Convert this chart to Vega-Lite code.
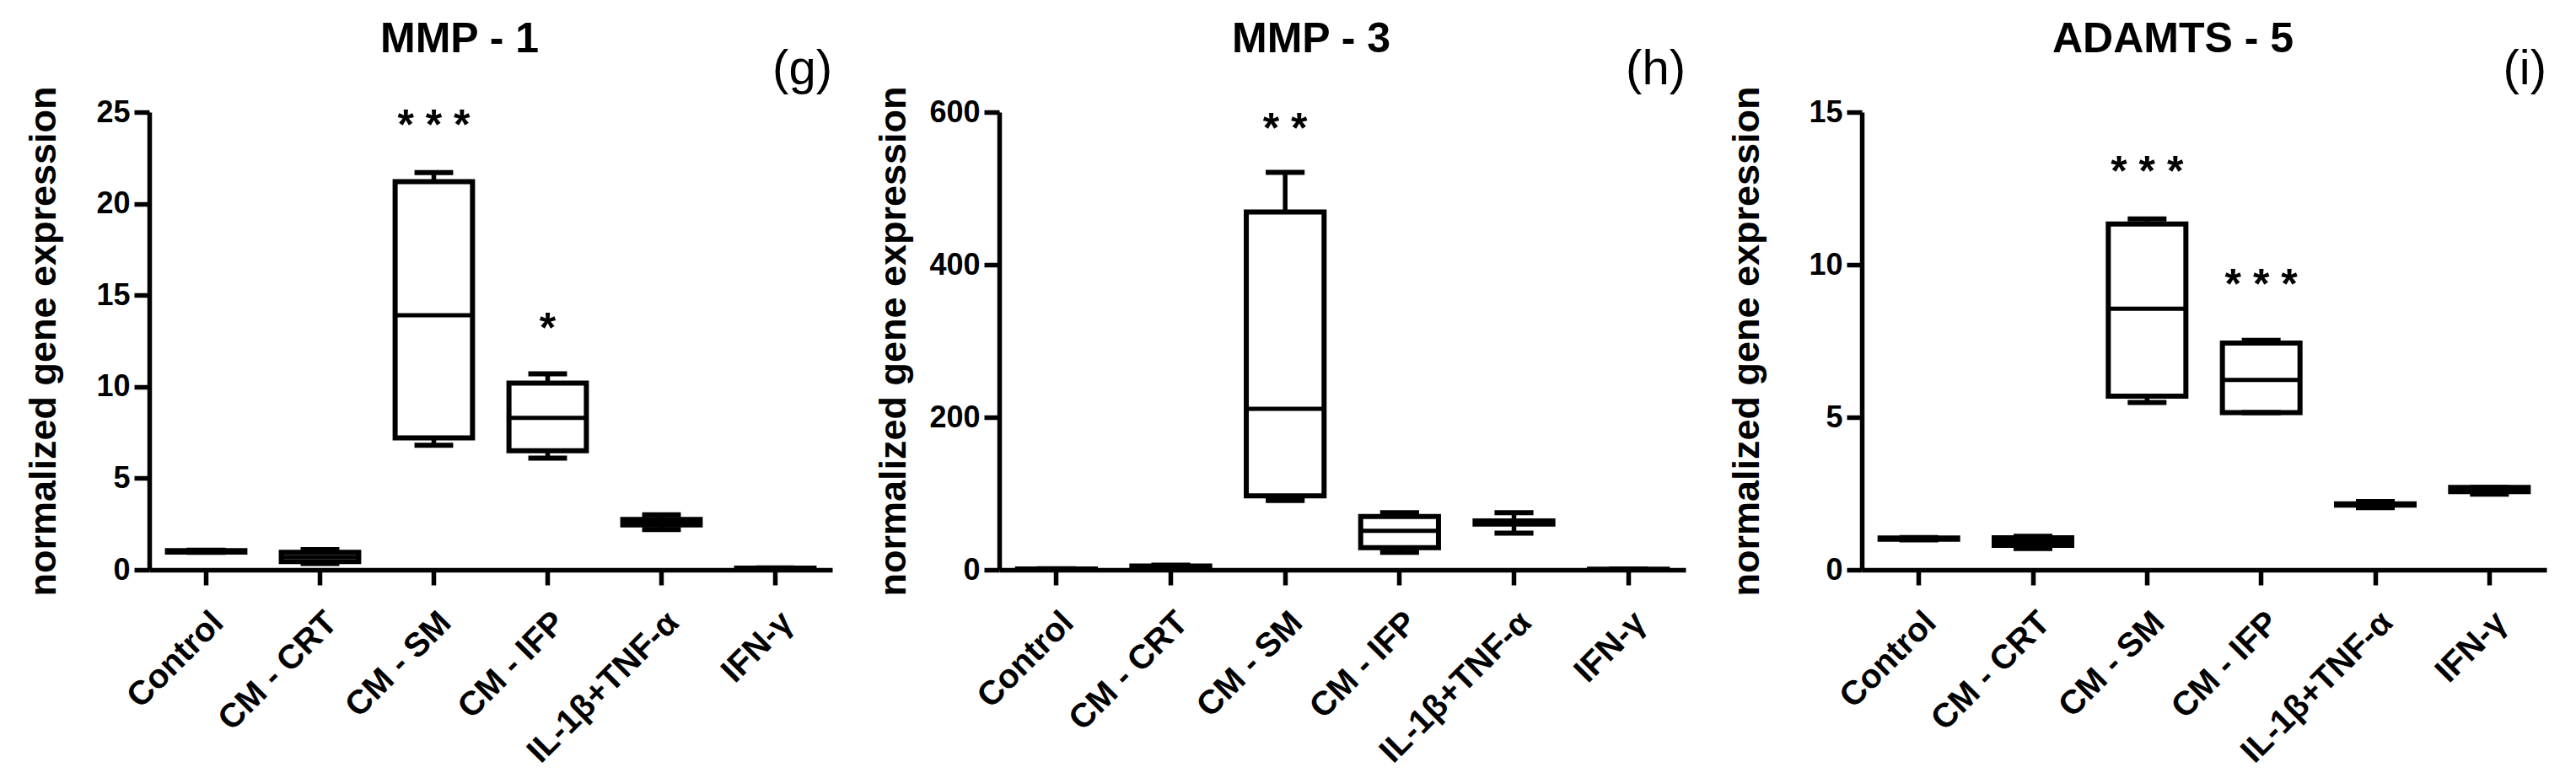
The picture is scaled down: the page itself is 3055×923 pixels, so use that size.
{
  "$schema": "https://vega.github.io/schema/vega-lite/v6.json",
  "background": "white",
  "padding": {"left": 29, "top": 22, "right": 5, "bottom": 5},
  "spacing": 50,
  "config": {
    "font": "Liberation Sans",
    "view": {"stroke": null},
    "axis": {
      "domainColor": "black", "domainWidth": 5.5, "tickColor": "black", "tickWidth": 5.5, "tickSize": 18,
      "labelFont": "Liberation Sans", "labelFontWeight": "bold", "labelFontSize": 36, "labelColor": "black", "labelLimit": 0,
      "titleFont": "Liberation Sans", "titleFontWeight": "bold", "titleFontSize": 45, "titleColor": "black",
      "grid": false
    },
    "axisX": {"labelAngle": -45, "labelAlign": "right", "labelBaseline": "top", "labelPadding": 24, "labelFontSize": 40},
    "axisY": {"labelPadding": 5},
    "title": {"font": "Liberation Sans", "fontSize": 50, "fontWeight": "bold", "color": "black", "anchor": "middle", "dx": -37, "baseline": "alphabetic", "offset": -18}
  },
  "datasets": {
    "mmp1": [
      {"group": "Control", "min": 0.95, "q1": 0.97, "med": 1.0, "q3": 1.05, "max": 1.07},
      {"group": "CM - CRT", "min": 0.35, "q1": 0.45, "med": 0.7, "q3": 0.95, "max": 1.1},
      {"group": "CM - SM", "min": 6.8, "q1": 7.2, "med": 13.9, "q3": 21.2, "max": 21.7},
      {"group": "CM - IFP", "min": 6.1, "q1": 6.5, "med": 8.3, "q3": 10.2, "max": 10.7},
      {"group": "IL-1β+TNF-α", "min": 2.2, "q1": 2.45, "med": 2.6, "q3": 2.75, "max": 3.0},
      {"group": "IFN-γ", "min": 0.05, "q1": 0.07, "med": 0.08, "q3": 0.09, "max": 0.1}
    ],
    "mmp1_sig": [
      {"group": "CM - SM", "y": 24.2, "label": "*  *  *"},
      {"group": "CM - IFP", "y": 13.1, "label": "*"}
    ],
    "mmp1_tag": [{"group": "IFN-γ", "y": 25, "label": "(g)"}],
    "mmp3": [
      {"group": "Control", "min": 0.5, "q1": 0.8, "med": 1.0, "q3": 1.2, "max": 1.5},
      {"group": "CM - CRT", "min": 2, "q1": 3, "med": 4, "q3": 5, "max": 6},
      {"group": "CM - SM", "min": 91, "q1": 97, "med": 211, "q3": 469, "max": 521},
      {"group": "CM - IFP", "min": 23, "q1": 29, "med": 51, "q3": 70, "max": 75},
      {"group": "IL-1β+TNF-α", "min": 48, "q1": 60, "med": 62, "q3": 64, "max": 75},
      {"group": "IFN-γ", "min": 0.3, "q1": 0.5, "med": 0.6, "q3": 0.8, "max": 1.0}
    ],
    "mmp3_sig": [{"group": "CM - SM", "y": 577, "label": "*  *"}],
    "mmp3_tag": [{"group": "IFN-γ", "y": 600, "label": "(h)"}],
    "adamts5": [
      {"group": "Control", "min": 0.98, "q1": 1.0, "med": 1.02, "q3": 1.04, "max": 1.06},
      {"group": "CM - CRT", "min": 0.7, "q1": 0.8, "med": 0.95, "q3": 1.05, "max": 1.1},
      {"group": "CM - SM", "min": 5.48, "q1": 5.69, "med": 8.56, "q3": 11.33, "max": 11.5},
      {"group": "CM - IFP", "min": 5.15, "q1": 5.15, "med": 6.22, "q3": 7.43, "max": 7.52},
      {"group": "IL-1β+TNF-α", "min": 2.04, "q1": 2.12, "med": 2.14, "q3": 2.16, "max": 2.24},
      {"group": "IFN-γ", "min": 2.48, "q1": 2.56, "med": 2.62, "q3": 2.7, "max": 2.7}
    ],
    "adamts5_sig": [
      {"group": "CM - SM", "y": 13.0, "label": "*  *  *"},
      {"group": "CM - IFP", "y": 9.3, "label": "*  *  *"}
    ],
    "adamts5_tag": [{"group": "IFN-γ", "y": 15, "label": "(i)"}]
  },
  "hconcat": [
    {
      "width": 810, "height": 543,
      "title": "MMP - 1",
      "encoding": {"x": {"field": "group", "type": "nominal", "title": null, "sort": ["Control", "CM - CRT", "CM - SM", "CM - IFP", "IL-1β+TNF-α", "IFN-γ"], "scale": {"paddingInner": 0, "paddingOuter": 0}}},
      "layer": [
        {"data": {"name": "mmp1"}, "mark": {"type": "rule", "color": "black", "strokeWidth": 5.5},
         "encoding": {"y": {"field": "min", "type": "quantitative", "scale": {"domain": [0, 25], "nice": false}, "axis": {"values": [0, 5, 10, 15, 20, 25], "titlePadding": 39}, "title": "normalized gene expression"}, "y2": {"field": "max"}}},
        {"data": {"name": "mmp1"}, "mark": {"type": "bar", "fill": "white", "stroke": "black", "strokeWidth": 6, "width": {"band": 0.68}},
         "encoding": {"y": {"field": "q1", "type": "quantitative", "scale": {"domain": [0, 25], "nice": false}, "title": "normalized gene expression"}, "y2": {"field": "q3"}}},
        {"data": {"name": "mmp1"}, "mark": {"type": "bar", "fill": "white", "stroke": "black", "strokeWidth": 5, "width": {"band": 0.68}},
         "encoding": {"y": {"field": "med", "type": "quantitative", "scale": {"domain": [0, 25], "nice": false}, "title": "normalized gene expression"}, "y2": {"field": "med"}}},
        {"data": {"name": "mmp1"}, "mark": {"type": "bar", "fill": "white", "stroke": "black", "strokeWidth": 6, "width": {"band": 0.34}},
         "encoding": {"y": {"field": "max", "type": "quantitative", "scale": {"domain": [0, 25], "nice": false}, "title": "normalized gene expression"}, "y2": {"field": "max"}}},
        {"data": {"name": "mmp1"}, "mark": {"type": "bar", "fill": "white", "stroke": "black", "strokeWidth": 6, "width": {"band": 0.34}},
         "encoding": {"y": {"field": "min", "type": "quantitative", "scale": {"domain": [0, 25], "nice": false}, "title": "normalized gene expression"}, "y2": {"field": "min"}}},
        {"data": {"name": "mmp1_sig"}, "mark": {"type": "text", "font": "Liberation Sans", "fontWeight": "bold", "fontSize": 50, "baseline": "middle", "dy": 0, "color": "black"},
         "encoding": {"y": {"field": "y", "type": "quantitative", "scale": {"domain": [0, 25], "nice": false}, "title": "normalized gene expression"}, "text": {"field": "label"}}},
        {"data": {"name": "mmp1_tag"}, "mark": {"type": "text", "font": "Liberation Sans", "fontSize": 58, "align": "right", "baseline": "alphabetic", "dy": -33, "color": "black"},
         "encoding": {"x": {"field": "group", "type": "nominal", "bandPosition": 1, "title": null, "sort": ["Control", "CM - CRT", "CM - SM", "CM - IFP", "IL-1β+TNF-α", "IFN-γ"]}, "y": {"field": "y", "type": "quantitative", "scale": {"domain": [0, 25], "nice": false}, "title": "normalized gene expression"}, "text": {"field": "label"}}}
      ]
    },
    {
      "width": 814, "height": 543,
      "title": "MMP - 3",
      "encoding": {"x": {"field": "group", "type": "nominal", "title": null, "sort": ["Control", "CM - CRT", "CM - SM", "CM - IFP", "IL-1β+TNF-α", "IFN-γ"], "scale": {"paddingInner": 0, "paddingOuter": 0}}},
      "layer": [
        {"data": {"name": "mmp3"}, "mark": {"type": "rule", "color": "black", "strokeWidth": 5.5},
         "encoding": {"y": {"field": "min", "type": "quantitative", "scale": {"domain": [0, 600], "nice": false}, "axis": {"values": [0, 200, 400, 600], "titlePadding": 19}, "title": "normalized gene expression"}, "y2": {"field": "max"}}},
        {"data": {"name": "mmp3"}, "mark": {"type": "bar", "fill": "white", "stroke": "black", "strokeWidth": 6, "width": {"band": 0.68}},
         "encoding": {"y": {"field": "q1", "type": "quantitative", "scale": {"domain": [0, 600], "nice": false}, "title": "normalized gene expression"}, "y2": {"field": "q3"}}},
        {"data": {"name": "mmp3"}, "mark": {"type": "bar", "fill": "white", "stroke": "black", "strokeWidth": 5, "width": {"band": 0.68}},
         "encoding": {"y": {"field": "med", "type": "quantitative", "scale": {"domain": [0, 600], "nice": false}, "title": "normalized gene expression"}, "y2": {"field": "med"}}},
        {"data": {"name": "mmp3"}, "mark": {"type": "bar", "fill": "white", "stroke": "black", "strokeWidth": 6, "width": {"band": 0.34}},
         "encoding": {"y": {"field": "max", "type": "quantitative", "scale": {"domain": [0, 600], "nice": false}, "title": "normalized gene expression"}, "y2": {"field": "max"}}},
        {"data": {"name": "mmp3"}, "mark": {"type": "bar", "fill": "white", "stroke": "black", "strokeWidth": 6, "width": {"band": 0.34}},
         "encoding": {"y": {"field": "min", "type": "quantitative", "scale": {"domain": [0, 600], "nice": false}, "title": "normalized gene expression"}, "y2": {"field": "min"}}},
        {"data": {"name": "mmp3_sig"}, "mark": {"type": "text", "font": "Liberation Sans", "fontWeight": "bold", "fontSize": 50, "baseline": "middle", "dy": 0, "color": "black"},
         "encoding": {"y": {"field": "y", "type": "quantitative", "scale": {"domain": [0, 600], "nice": false}, "title": "normalized gene expression"}, "text": {"field": "label"}}},
        {"data": {"name": "mmp3_tag"}, "mark": {"type": "text", "font": "Liberation Sans", "fontSize": 58, "align": "right", "baseline": "alphabetic", "dy": -33, "color": "black"},
         "encoding": {"x": {"field": "group", "type": "nominal", "bandPosition": 1, "title": null, "sort": ["Control", "CM - CRT", "CM - SM", "CM - IFP", "IL-1β+TNF-α", "IFN-γ"]}, "y": {"field": "y", "type": "quantitative", "scale": {"domain": [0, 600], "nice": false}, "title": "normalized gene expression"}, "text": {"field": "label"}}}
      ]
    },
    {
      "width": 812, "height": 543,
      "title": "ADAMTS - 5",
      "encoding": {"x": {"field": "group", "type": "nominal", "title": null, "sort": ["Control", "CM - CRT", "CM - SM", "CM - IFP", "IL-1β+TNF-α", "IFN-γ"], "scale": {"paddingInner": 0, "paddingOuter": 0}}},
      "layer": [
        {"data": {"name": "adamts5"}, "mark": {"type": "rule", "color": "black", "strokeWidth": 5.5},
         "encoding": {"y": {"field": "min", "type": "quantitative", "scale": {"domain": [0, 15], "nice": false}, "axis": {"values": [0, 5, 10, 15], "titlePadding": 50}, "title": "normalized gene expression"}, "y2": {"field": "max"}}},
        {"data": {"name": "adamts5"}, "mark": {"type": "bar", "fill": "white", "stroke": "black", "strokeWidth": 6, "width": {"band": 0.68}},
         "encoding": {"y": {"field": "q1", "type": "quantitative", "scale": {"domain": [0, 15], "nice": false}, "title": "normalized gene expression"}, "y2": {"field": "q3"}}},
        {"data": {"name": "adamts5"}, "mark": {"type": "bar", "fill": "white", "stroke": "black", "strokeWidth": 5, "width": {"band": 0.68}},
         "encoding": {"y": {"field": "med", "type": "quantitative", "scale": {"domain": [0, 15], "nice": false}, "title": "normalized gene expression"}, "y2": {"field": "med"}}},
        {"data": {"name": "adamts5"}, "mark": {"type": "bar", "fill": "white", "stroke": "black", "strokeWidth": 6, "width": {"band": 0.34}},
         "encoding": {"y": {"field": "max", "type": "quantitative", "scale": {"domain": [0, 15], "nice": false}, "title": "normalized gene expression"}, "y2": {"field": "max"}}},
        {"data": {"name": "adamts5"}, "mark": {"type": "bar", "fill": "white", "stroke": "black", "strokeWidth": 6, "width": {"band": 0.34}},
         "encoding": {"y": {"field": "min", "type": "quantitative", "scale": {"domain": [0, 15], "nice": false}, "title": "normalized gene expression"}, "y2": {"field": "min"}}},
        {"data": {"name": "adamts5_sig"}, "mark": {"type": "text", "font": "Liberation Sans", "fontWeight": "bold", "fontSize": 50, "baseline": "middle", "dy": 0, "color": "black"},
         "encoding": {"y": {"field": "y", "type": "quantitative", "scale": {"domain": [0, 15], "nice": false}, "title": "normalized gene expression"}, "text": {"field": "label"}}},
        {"data": {"name": "adamts5_tag"}, "mark": {"type": "text", "font": "Liberation Sans", "fontSize": 58, "align": "right", "baseline": "alphabetic", "dy": -33, "color": "black"},
         "encoding": {"x": {"field": "group", "type": "nominal", "bandPosition": 1, "title": null, "sort": ["Control", "CM - CRT", "CM - SM", "CM - IFP", "IL-1β+TNF-α", "IFN-γ"]}, "y": {"field": "y", "type": "quantitative", "scale": {"domain": [0, 15], "nice": false}, "title": "normalized gene expression"}, "text": {"field": "label"}}}
      ]
    }
  ]
}
